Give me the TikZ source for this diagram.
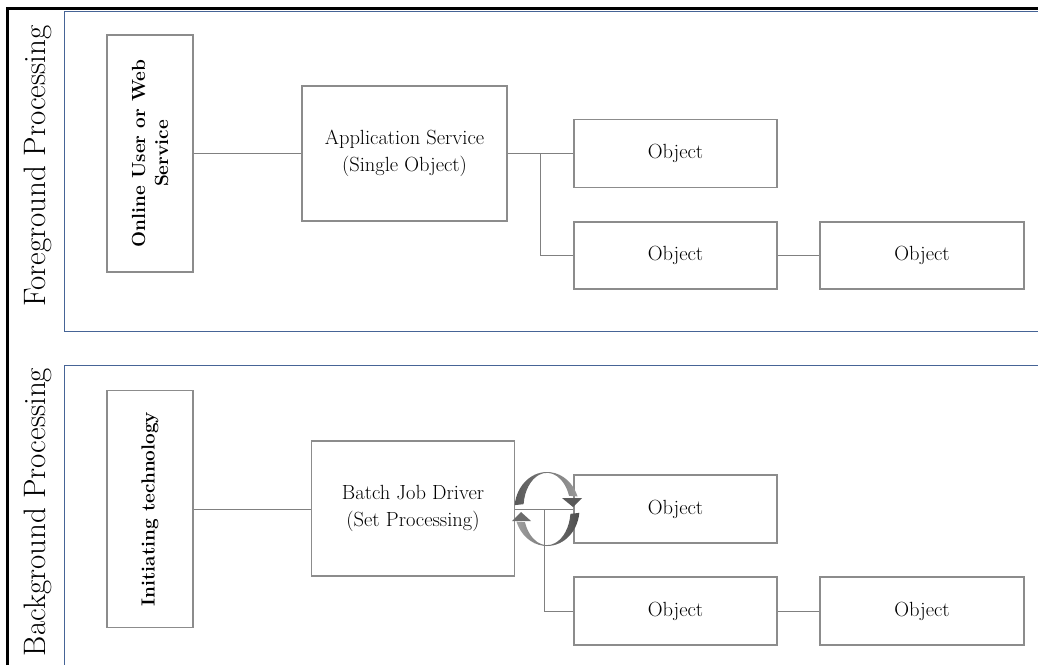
\documentclass[tikz,border=0pt]{standalone}
\usetikzlibrary{positioning}
\definecolor{boxgray}{RGB}{140,140,140}
\definecolor{linegray}{RGB}{128,128,128}
\definecolor{panelblue}{RGB}{70,100,150}
\tikzset{
  box/.style={draw=boxgray, line width=1.2pt, fill=white, inner sep=2pt, align=center, font=\fontsize{20.5}{27}\selectfont},
  vbox/.style={draw=boxgray, line width=1.2pt, fill=white, align=center, minimum width=86pt, minimum height=237pt},
  vtext/.style={rotate=90, align=center, font=\bfseries\fontsize{19}{23}\selectfont},
  conn/.style={draw=linegray, line width=1pt},
  panel/.style={draw=panelblue, line width=1pt},
  frame/.style={draw=black, line width=3pt},
  sidelabel/.style={rotate=90, font=\fontsize{31}{36}\selectfont}
}
\begin{document}
\begin{tikzpicture}[x=1pt,y=-1pt]
\useasboundingbox (0,0) rectangle (1038,665);
% frame
\draw[frame] (7,665) -- (7,8) -- (1038,8);
% panels
\draw[panel] (1038,11) -- (64,11) -- (64,331) -- (1038,331);
\draw[panel] (1038,365) -- (64,365) -- (64,665);
% side labels
\node[sidelabel] (fg) at (38,166) {Foreground Processing};
\node[sidelabel] (bg) at (38,512) {Background Processing};
% top boxes
\node[vbox] (online) at (150,153.5) {};
\node[vtext] (onlinetxt) at (online.center) {Online User or Web\\Service};
\node[box, minimum width=205pt, minimum height=135pt] (app) at (404.5,153.5) {Application Service\\(Single Object)};
\node[box, minimum width=203pt, minimum height=68pt] (o1) at (675.5,153.5) {Object};
\node[box, minimum width=203pt, minimum height=67pt] (o2) at (675.5,255.5) {Object};
\node[box, minimum width=204pt, minimum height=67pt] (o3) at (922,255.5) {Object};
\coordinate (j1) at (540,153.5);
\draw[conn] (online.east) -- (app.west);
\draw[conn] (app.east) -- (o1.west);
\draw[conn] (j1) |- (o2.west);
\draw[conn] (o2.east) -- (o3.west);
% bottom boxes
\node[vbox] (init) at (150,509) {};
\node[vtext] (inittxt) at (init.center) {Initiating technology};
\node[box, minimum width=203pt, minimum height=135pt] (batch) at (413,508.5) {Batch Job Driver\\(Set Processing)};
\node[box, minimum width=203pt, minimum height=68pt] (b1) at (675.5,509) {Object};
\node[box, minimum width=203pt, minimum height=68pt] (b2) at (675.5,611) {Object};
\node[box, minimum width=204pt, minimum height=68pt] (b3) at (922,611) {Object};
\coordinate (j2) at (544,509);
\draw[conn] (init.east) -- (init.east -| batch.west);
\draw[conn] (batch.east |- b1.west) -- (b1.west);
\draw[conn] (j2) |- (b2.west);
\draw[conn] (b2.east) -- (b3.west);
% cycle arrows
\shade[left color=gray!70!black, right color=gray!80]
  (547,509) ++(186:32.5 and 37) arc[start angle=186, end angle=340, x radius=32.5, y radius=37]
  -- ++(-8.5,-0.5) arc[start angle=340, end angle=186, x radius=23.5, y radius=35] -- cycle;
\fill[gray!70!black] (562,498) -- (582,498) -- (573,507) -- cycle;
\shade[left color=gray!75, right color=gray!60!black]
  (547,509) ++(6:32.5 and 37) arc[start angle=6, end angle=160, x radius=32.5, y radius=37]
  -- ++(8.5,0.5) arc[start angle=160, end angle=6, x radius=23.5, y radius=35] -- cycle;
\fill[gray!85!black] (512,521) -- (531,521) -- (521,512) -- cycle;
\end{tikzpicture}
\end{document}
